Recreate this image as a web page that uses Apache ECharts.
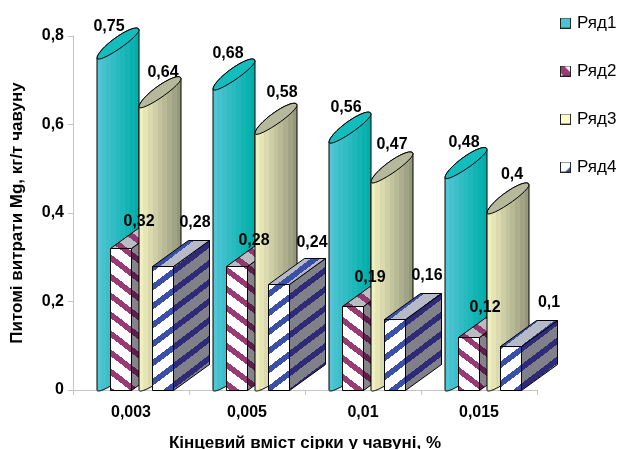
<!DOCTYPE html>
<html>
<head>
<meta charset="utf-8">
<style>html,body{margin:0;padding:0;background:#fff}#chart{width:621px;height:449px}</style>
<script src="https://cdn.jsdelivr.net/npm/echarts@6/dist/echarts.min.js"></script>
</head>
<body>
<div id="chart"></div>
<script>
// Tick labels and values of the four series
const categories = ['0,003', '0,005', '0,01', '0,015'];
const seriesNames = ['Ряд1', 'Ряд2', 'Ряд3', 'Ряд4'];
const row1 = [0.75, 0.68, 0.56, 0.48];
const row2 = [0.32, 0.28, 0.19, 0.12];
const row3 = [0.64, 0.58, 0.47, 0.40];
const row4 = [0.28, 0.24, 0.16, 0.10];

// Value label placement relative to each mark: [dx from category centre, dy from value height]
const labelNudge1 = [[-22, -32], [-19, -36], [-17, -35], [-15, -35]];
const labelNudge2 = [[8, -27], [7, -26], [7, -28], [6, -29]];
const labelNudge3 = [[32, -34], [35, -41], [29, -37], [33, -38]];
const labelNudge4 = [[64, -44], [65, -41], [64, -44], [70, -43]];

const FONT = '"Liberation Sans", Arial, sans-serif';

// Diagonal hatch tile, painted pixel by pixel so that the stripes stay stepped
function hatch(bg, fg, falling) {
  const w = 25, h = 19, thick = 7;
  const c = document.createElement('canvas');
  c.width = w; c.height = h;
  const ctx = c.getContext('2d');
  ctx.fillStyle = bg; ctx.fillRect(0, 0, w, h);
  ctx.fillStyle = fg;
  for (let x = 0; x < w; x++) {
    const shift = Math.floor(x * h / w);
    for (let y = 0; y < h; y++) {
      const phase = falling ? (y - shift + h) % h : (y + shift) % h;
      if (phase < thick) ctx.fillRect(x, y, 1, 1);
    }
  }
  return { image: c, repeat: 'repeat' };
}

// Small square used as a legend key
function key(bg, fg) {
  const c = document.createElement('canvas');
  c.width = 12; c.height = 12;
  const ctx = c.getContext('2d');
  ctx.fillStyle = bg; ctx.fillRect(0, 0, 12, 12);
  if (fg) fg(ctx);
  ctx.strokeStyle = '#222'; ctx.lineWidth = 1;
  ctx.strokeRect(0.5, 0.5, 11, 11);
  return 'image://' + c.toDataURL();
}

function bands(left, right, n) {
  const stops = [];
  const mix = (t) => left.map((v, i) => Math.round(v + (right[i] - v) * t));
  for (let i = 0; i < n; i++) {
    const col = 'rgb(' + mix(i / (n - 1)).join(',') + ')';
    stops.push({ offset: i / n, color: col }, { offset: (i + 1) / n, color: col });
  }
  return new echarts.graphic.LinearGradient(0, 0, 1, 0, stops);
}

const cylSkins = {
  0: { body: bands([80, 197, 212], [0, 174, 170], 9), top: '#14BDBD' },
  2: { body: bands([240, 240, 190], [150, 152, 125], 9), top: '#B5B89B' }
};
const boxSkins = {
  1: {
    front: hatch('#ffffff', '#983A74', true),
    side: hatch('#84848a', '#5B1F4C', true),
    top: hatch('#BBBBC2', '#8E3A70', true)
  },
  3: {
    front: hatch('#ffffff', '#3A50A8', false),
    side: hatch('#808088', '#2E2A78', false),
    top: hatch('#B6BAC6', '#3A50A8', false)
  }
};

// Cylinder cross-section: a sheared oval, fuller on its far side, sampled along t
const CYL_RX = 21, CYL_RISE = 14, CYL_BULGE_FAR = 8, CYL_BULGE_NEAR = 5.5;
function ellipsePoint(cx, cy, t) {
  const s = Math.sin(t);
  const bulge = s > 0 ? CYL_BULGE_FAR : CYL_BULGE_NEAR;
  return [cx + CYL_RX * Math.cos(t), cy - CYL_RISE * Math.cos(t) - bulge * s];
}
function arc(cx, cy, from, to) {
  const pts = [];
  for (let i = 0; i <= 28; i++) pts.push(ellipsePoint(cx, cy, from + (to - from) * i / 28));
  return pts;
}

function cylinder(si, zIdx) {
  const nudge = si === 0 ? -34 : 8;
  return function (params, api) {
    const centre = api.coord([api.value(0), api.value(1)]);
    const base = api.coord([api.value(0), 0]);
    const cx = Math.round(centre[0]) + nudge + 21;
    const top = centre[1] - CYL_RISE, bot = base[1] - CYL_RISE;
    const skin = cylSkins[si];
    // Down the left edge, along the near side of the foot, up the right edge
    const body = [].concat(
      arc(cx, bot, Math.PI, 2 * Math.PI),
      arc(cx, top, 0, Math.PI)
    );
    const cap = arc(cx, top, 0, Math.PI * 2);
    return {
      type: 'group',
      children: [
        { type: 'polygon', z2: zIdx, shape: { points: body },
          style: { fill: skin.body, stroke: '#000', lineWidth: 1 } },
        { type: 'polygon', z2: zIdx, shape: { points: cap },
          style: { fill: skin.top, stroke: '#000', lineWidth: 1 } }
      ]
    };
  };
}

function box(si, zIdx) {
  const nudge = si === 1 ? -21 : 21;
  const width = 21, dx = 36, dy = 26;
  return function (params, api) {
    const centre = api.coord([api.value(0), api.value(1)]);
    const base = api.coord([api.value(0), 0]);
    const x0 = Math.round(centre[0]) + nudge + 0.5;
    const x1 = x0 + width, yt = Math.round(centre[1]) + 0.5, yb = Math.round(base[1]) + 0.5;
    const skin = boxSkins[si];
    const mk = (points, fill) => ({
      type: 'polygon', z2: zIdx, shape: { points },
      style: { fill, stroke: '#000', lineWidth: 1 }
    });
    return {
      type: 'group',
      children: [
        mk([[x1, yt], [x1 + dx, yt - dy], [x1 + dx, yb - dy], [x1, yb]], skin.side),
        mk([[x0, yt], [x0 + dx, yt - dy], [x1 + dx, yt - dy], [x1, yt]], skin.top),
        mk([[x0, yt], [x1, yt], [x1, yb], [x0, yb]], skin.front)
      ]
    };
  };
}

// Value labels stay above every mark
function valueLabels(nudges) {
  return function (params, api) {
    const p = api.coord([api.value(0), api.value(1)]);
    const n = nudges[params.dataIndex];
    return {
      type: 'text', z2: 50,
      style: {
        text: String(api.value(1)).replace('.', ','),
        x: p[0] + n[0], y: p[1] + n[1],
        align: 'center', verticalAlign: 'middle',
        font: 'bold 16px ' + FONT, fill: '#000'
      }
    };
  };
}

const toData = (vals) => vals.map((v, i) => [i, v]);
const rows = [row1, row2, row3, row4];
const nudges = [labelNudge1, labelNudge2, labelNudge3, labelNudge4];
const legendColors = ['#4CC3D3', '#983A74', '#FFFFCC', '#FFFFFF'];

const markSeries = rows.map((vals, i) => ({
  type: 'custom',
  name: seriesNames[i],
  silent: true,
  itemStyle: { color: legendColors[i] },
  encode: { x: 0, y: 1 },
  data: toData(vals),
  renderItem: i % 2 === 0 ? cylinder(i, i + 1) : box(i, i + 1)
}));
const labelSeries = rows.map((vals, i) => ({
  type: 'custom',
  silent: true,
  encode: { x: 0, y: 1 },
  data: toData(vals),
  renderItem: valueLabels(nudges[i])
}));

const legendIcons = [
  key('#4CC3D3'),
  key('#ffffff', (c) => {
    c.fillStyle = '#983A74';
    c.beginPath(); c.moveTo(0, 0); c.lineTo(7, 0); c.lineTo(12, 6); c.lineTo(12, 12); c.lineTo(4, 12); c.lineTo(0, 7); c.fill();
    c.fillStyle = '#ffffff';
    c.beginPath(); c.moveTo(5, 1); c.lineTo(12, 1); c.lineTo(12, 8); c.fill();
  }),
  key('#FFFFCC'),
  key('#ffffff', (c) => {
    c.fillStyle = '#3A50A8';
    c.beginPath(); c.moveTo(12, 5); c.lineTo(12, 12); c.lineTo(5, 12); c.fill();
  })
];

const chart = echarts.init(document.getElementById('chart'), null, { renderer: 'canvas' });
chart.setOption({
  animation: false,
  backgroundColor: '#ffffff',
  textStyle: { fontFamily: FONT },
  legend: {
    orient: 'vertical',
    left: 555,
    top: 9,
    itemWidth: 11,
    itemHeight: 12,
    itemGap: 30,
    icon: 'rect',
    selectedMode: false,
    textStyle: { fontFamily: FONT, fontSize: 17, color: '#000', padding: [0, 0, 0, 1], lineHeight: 18 },
    data: seriesNames.map((name, i) => ({ name, icon: legendIcons[i] }))
  },
  grid: { left: 73, right: 84, top: 36, bottom: 59, outerBoundsMode: 'none' },
  xAxis: {
    type: 'category',
    data: categories,
    axisLine: { lineStyle: { color: '#C4C4C4', width: 1 } },
    axisTick: { show: true, length: 5, alignWithLabel: false, lineStyle: { color: '#C4C4C4' } },
    axisLabel: { margin: 15, color: '#000', fontFamily: FONT, fontWeight: 'bold', fontSize: 16 },
    name: 'Кінцевий вміст сірки у чавуні, %',
    nameLocation: 'middle',
    nameGap: 45,
    nameTextStyle: { color: '#000', fontFamily: FONT, fontWeight: 'bold', fontSize: 17 }
  },
  yAxis: {
    type: 'value',
    min: 0,
    max: 0.8,
    interval: 0.2,
    splitLine: { show: false },
    axisLine: { show: true, lineStyle: { color: '#C4C4C4', width: 1 } },
    axisTick: { show: true, length: 5, lineStyle: { color: '#C4C4C4' } },
    axisLabel: {
      margin: 9, color: '#000', fontFamily: FONT, fontWeight: 'bold', fontSize: 16,
      formatter: (v) => String(v).replace('.', ',')
    },
    name: 'Питомі витрати Mg, кг/т чавуну',
    nameLocation: 'middle',
    nameRotate: 90,
    nameGap: 47,
    nameTextStyle: { color: '#000', fontFamily: FONT, fontWeight: 'bold', fontSize: 17 }
  },
  series: markSeries.concat(labelSeries)
});
</script>
</body>
</html>
